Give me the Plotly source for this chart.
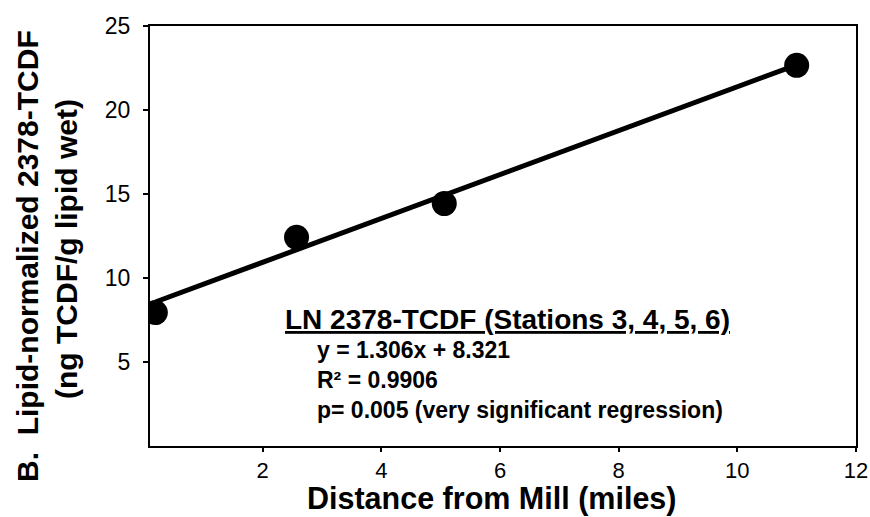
import plotly.graph_objects as go

# Data
distance_miles = [0.19, 2.57, 5.06, 11.0]
ln_tcdf = [7.94, 12.42, 14.43, 22.66]
fit_x = [0.19, 11.0]
fit_y = [8.57, 22.69]
x_ticks = [2, 4, 6, 8, 10, 12]
y_ticks = [5, 10, 15, 20, 25]

FONT = "Liberation Sans, Arial, sans-serif"

fig = go.Figure()
fig.add_trace(go.Scatter(x=fit_x, y=fit_y, mode="lines",
                         line=dict(color="black", width=5), showlegend=False))
fig.add_trace(go.Scatter(x=distance_miles, y=ln_tcdf, mode="markers",
                         marker=dict(color="black", size=25), showlegend=False))

L, R, T, B = 150, 14, 26, 71
W, H = 870, 517
pw, ph = W - L - R, H - T - B

def px(xp):
    return (xp - L) / pw

def py(yp):
    return (H - B - yp) / ph

annots = [
    dict(text="<b><u>LN 2378-TCDF (Stations 3, 4, 5, 6)</u></b>", x=px(283), y=py(319),
         xanchor="left", yanchor="middle", font=dict(size=28)),
    dict(text="<b>y = 1.306x + 8.321</b>", x=px(315), y=py(350),
         xanchor="left", yanchor="middle", font=dict(size=23)),
    dict(text="<b>R² = 0.9906</b>", x=px(315), y=py(380),
         xanchor="left", yanchor="middle", font=dict(size=23)),
    dict(text="<b>p= 0.005 (very significant regression)</b>", x=px(315), y=py(410),
         xanchor="left", yanchor="middle", font=dict(size=23)),
    dict(text="<b>B.\u00a0 Lipid-normalized 2378-TCDF</b>", x=px(27), y=py(256),
         xanchor="center", yanchor="middle", textangle=-90, font=dict(size=30)),
    dict(text="<b>(ng TCDF/g lipid wet)</b>", x=px(66), y=py(249),
         xanchor="center", yanchor="middle", textangle=-90, font=dict(size=30)),
    dict(text="<b>Distance from Mill (miles)</b>", x=px(491), y=py(498),
         xanchor="center", yanchor="middle", font=dict(size=30.5)),
]
for a in annots:
    a.update(xref="paper", yref="paper", showarrow=False)
    a["font"].update(family=FONT, color="black")

fig.update_layout(
    width=W, height=H,
    margin=dict(l=L, r=R, t=T, b=B, autoexpand=False),
    paper_bgcolor="white", plot_bgcolor="white",
    font=dict(family=FONT, color="black"),
    annotations=annots,
    xaxis=dict(range=[0.1, 12], tickvals=x_ticks, ticks="outside", ticklen=4, tickwidth=1.5,
               tickcolor="black", showline=True, linecolor="black", linewidth=2, mirror=True,
               showgrid=False, zeroline=False, tickfont=dict(size=22, family=FONT),
               automargin=False),
    yaxis=dict(range=[0, 25], tickvals=y_ticks, ticks="outside", ticklen=5, tickwidth=1.5,
               tickcolor="black", showline=True, linecolor="black", linewidth=2, mirror=True,
               showgrid=False, zeroline=False, tickfont=dict(size=23, family=FONT),
               automargin=False, ticklabelstandoff=8),
)

fig.write_html("out.html")
